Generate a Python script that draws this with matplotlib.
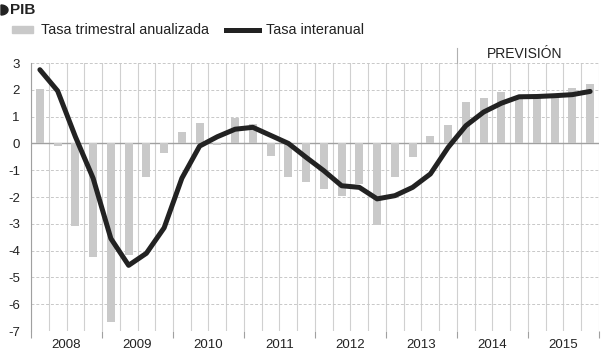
import numpy as np
import matplotlib.pyplot as plt
from matplotlib.patches import Rectangle, Polygon
from matplotlib.lines import Line2D

plt.rcParams['font.family'] = ['Liberation Sans', 'DejaVu Sans']

years = ["2008", "2009", "2010", "2011", "2012", "2013", "2014", "2015"]

# tasa trimestral anualizada (barras), 2008T1 .. 2015T4
trimestral = [2.03, -0.09, -3.1, -4.24, -6.67, -4.15, -1.27, -0.37,
              0.41, 0.78, -0.07, 0.93, 0.72, -0.46, -1.27, -1.45,
              -1.7, -1.95, -1.52, -3.05, -1.24, -0.52, 0.29, 0.68,
              1.53, 1.71, 1.9, 1.76, 1.76, 1.82, 2.06, 2.21]

# tasa interanual (linea)
interanual = [2.75, 1.96, 0.25, -1.3, -3.55, -4.55, -4.1, -3.15,
              -1.3, -0.1, 0.25, 0.53, 0.6, 0.3, 0.0, -0.52,
              -1.02, -1.58, -1.64, -2.07, -1.95, -1.64, -1.14, -0.15,
              0.66, 1.17, 1.5, 1.74, 1.75, 1.78, 1.82, 1.94]

x = np.arange(len(trimestral)) + 0.5

W, H = 602, 353
fig = plt.figure(figsize=(W / 100, H / 100), dpi=100)
ax = fig.add_axes([0.0515, 0.0623, 0.9435, 0.7592])

# rejilla
for xv in range(0, 33):
    ax.axvline(xv, color="#d0d0d0", lw=0.8, zorder=0)
for yv in range(-7, 4):
    if yv != 0:
        ax.axhline(yv, color="#c8c8c8", lw=0.7, ls=(0, (3, 2)), zorder=0)
ax.axhline(0, color="#a0a0a0", lw=1.0, zorder=1)

ax.bar(x, trimestral, width=0.45, color="#c9c9c9", zorder=2)
ax.plot(x, interanual, color="#222222", lw=3.6, solid_capstyle="round",
        solid_joinstyle="round", zorder=3)

ax.set_xlim(0, 32)
ax.set_ylim(-7, 3)
ax.set_yticks(range(-7, 4))
ax.set_yticklabels([str(v) for v in range(-7, 4)], fontsize=9.5, color="#222222")
ax.set_xticks(range(0, 33, 4))
ax.set_xticklabels([])
ax.set_xticks(np.arange(2, 32, 4), minor=True)
ax.set_xticklabels(years, minor=True, fontsize=9.5, color="#222222")
ax.tick_params(axis="x", which="major", length=5, color="#a0a0a0", width=0.8)
ax.tick_params(axis="x", which="minor", length=0, pad=6)
ax.tick_params(axis="y", length=0, pad=8)
for s in ["top", "right", "bottom"]:
    ax.spines[s].set_visible(False)
ax.spines["left"].set_color("#a0a0a0")
ax.spines["left"].set_linewidth(0.8)

# prevision
ax.plot([24, 24], [3, 3.55], color="#b0b0b0", lw=0.8, clip_on=False)
ax.text(27.8, 3.35, "PREVISIÓN", ha="center", va="center", fontsize=10,
        color="#222222")

# titulo: marca en forma de D
t = np.linspace(-np.pi / 2, np.pi / 2, 30)
px = 1.0 + 7 * np.cos(t)
py = 10 + 5 * np.sin(t)
fig.patches.append(Polygon(np.column_stack([px / W, 1 - py / H]),
                           closed=True, transform=fig.transFigure,
                           color="#222222"))
fig.text(10 / W, 1 - 10 / H, "PIB", fontsize=11, fontweight="bold",
         va="center", ha="left", color="#222222")

# leyenda
ly = 1 - 29.5 / H
fig.patches.append(Rectangle((12 / W, 1 - 33 / H), 21 / W, 7 / H,
                             transform=fig.transFigure, color="#c9c9c9"))
fig.text(41 / W, ly, "Tasa trimestral anualizada", fontsize=10.4,
         va="center", ha="left", color="#222222")
fig.lines.append(Line2D([226 / W, 259 / W], [ly, ly], lw=3.6,
                        color="#222222", transform=fig.transFigure))
fig.text(266 / W, ly, "Tasa interanual", fontsize=10.4,
         va="center", ha="left", color="#222222")

fig.savefig("out.png", dpi=100)
